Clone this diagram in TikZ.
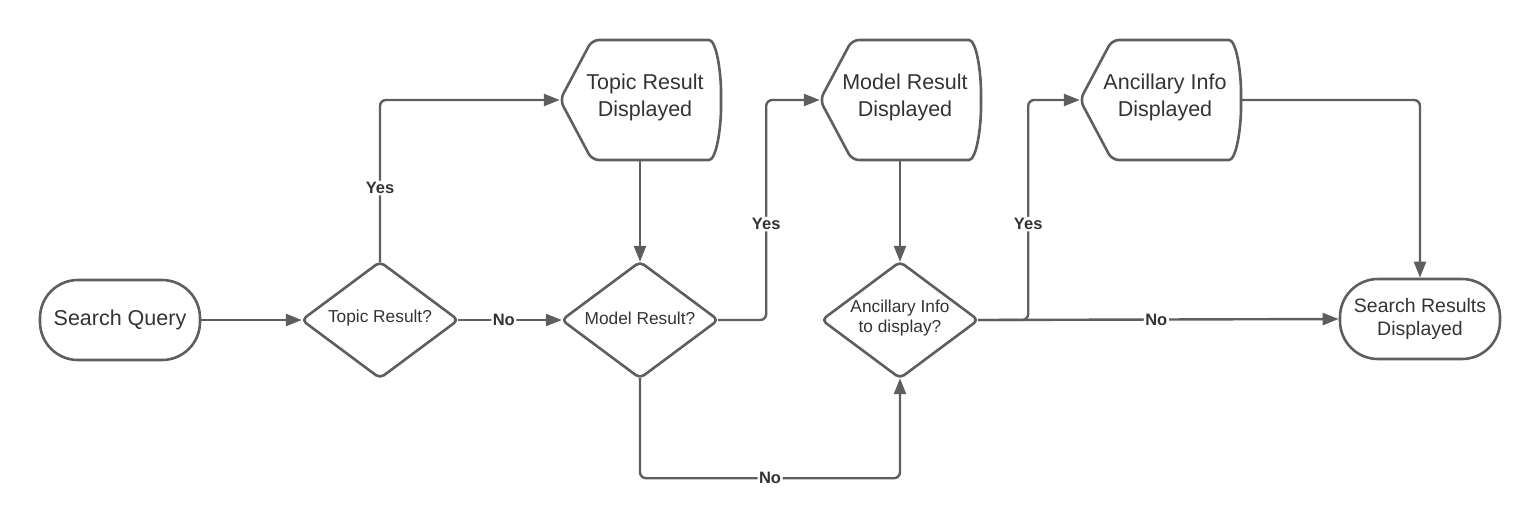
\documentclass[tikz,border=0pt]{standalone}
\usepackage{fontspec}
\setmainfont{Liberation Sans}
\usetikzlibrary{arrows.meta}
\definecolor{ln}{HTML}{5E5E5E}
\definecolor{tx}{HTML}{333333}
\begin{document}
\begin{tikzpicture}[x=1pt,y=-1pt,
  shapeline/.style={draw=ln, line width=2.6pt, line join=round},
  term/.style={shapeline, rounded corners=38pt, minimum width=160pt, minimum height=80pt, align=center, text=tx, inner sep=0pt},
  decanch/.style={minimum width=156pt, minimum height=116pt, inner sep=0pt},
  dispanch/.style={minimum width=160pt, minimum height=120pt, inner sep=0pt},
  dtext/.style={text=tx, align=center, font=\fontsize{17.3}{20.5}\selectfont, inner sep=0pt},
  ptext/.style={text=tx, align=center, font=\fontsize{21.5}{27}\selectfont, inner sep=0pt},
  conn/.style={draw=ln, line width=2.4pt, rounded corners=6pt, -{Triangle[length=16pt,width=12pt]}},
  lbl/.style={fill=white, text=tx, font=\bfseries\fontsize{16.5}{18}\selectfont, inner sep=1.5pt}
]
\useasboundingbox (0,0) rectangle (1540,531);

% terminals
\node[term, font=\fontsize{21.5}{27}\selectfont] (sq) at (120,320) {Search Query};
\node[term, font=\fontsize{19.5}{23}\selectfont] (sr) at (1420,319) {Search Results\\Displayed};

% decisions
\node[decanch] (d1) at (380,320) {};
\node[decanch] (d2) at (640,320) {};
\node[decanch] (d3) at (900,320) {};
\foreach \d in {d1,d2,d3}{
  \draw[shapeline, rounded corners=5pt] (\d.north) -- (\d.east) -- (\d.south) -- (\d.west) -- cycle;
}
\node[dtext] at ([yshift=2pt]d1.center) {Topic Result?};
\node[dtext] at ([yshift=2pt]d2.center) {Model Result?};
\node[dtext] at ([yshift=2pt]d3.center) {Ancillary Info\\to display?};

% displays
\node[dispanch] (t1) at (640,100) {};
\node[dispanch] (t2) at (900,100) {};
\node[dispanch] (t3) at (1160,100) {};
\foreach \t in {t1,t2,t3}{
  \draw[shapeline, rounded corners=7pt, shift={(\t.center)}]
    (-80,0) -- (-48,-60) -- (62,-60)
    .. controls (76,-60) and (81,-30) .. (81,0)
    .. controls (81,30) and (76,60) .. (62,60)
    -- (-48,60) -- cycle;
}
\node[ptext] at ([xshift=5pt,yshift=3pt]t1.center) {Topic Result\\Displayed};
\node[ptext] at ([xshift=5pt,yshift=3pt]t2.center) {Model Result\\Displayed};
\node[ptext] at ([xshift=5pt,yshift=3pt]t3.center) {Ancillary Info\\Displayed};

% connectors
\draw[conn] (sq.east) -- (d1.west);
\draw[conn] (d1.north) |- node[lbl, pos=0.228] {Yes} (t1.west);
\draw[conn] (d1.east) -- node[lbl, pos=0.44] {No} (d2.west);
\draw[conn] (t1.south) -- (d2.north);
\draw[conn] (d2.east) -- ++(48,0) |- node[lbl, pos=0.218] {Yes} (t2.west);
\draw[conn] (d2.south) -- ++(0,100) -| node[lbl, pos=0.25] {No} (d3.south);
\draw[conn] (t2.south) -- (d3.north);
\draw[conn] (d3.east) -- ++(50,0) |- node[lbl, pos=0.218] {Yes} (t3.west);
\draw[conn] (d3.east) -- node[lbl, pos=0.494] {No} (sr.west);
\draw[conn] (t3.east) -| (sr.north);
\end{tikzpicture}
\end{document}
